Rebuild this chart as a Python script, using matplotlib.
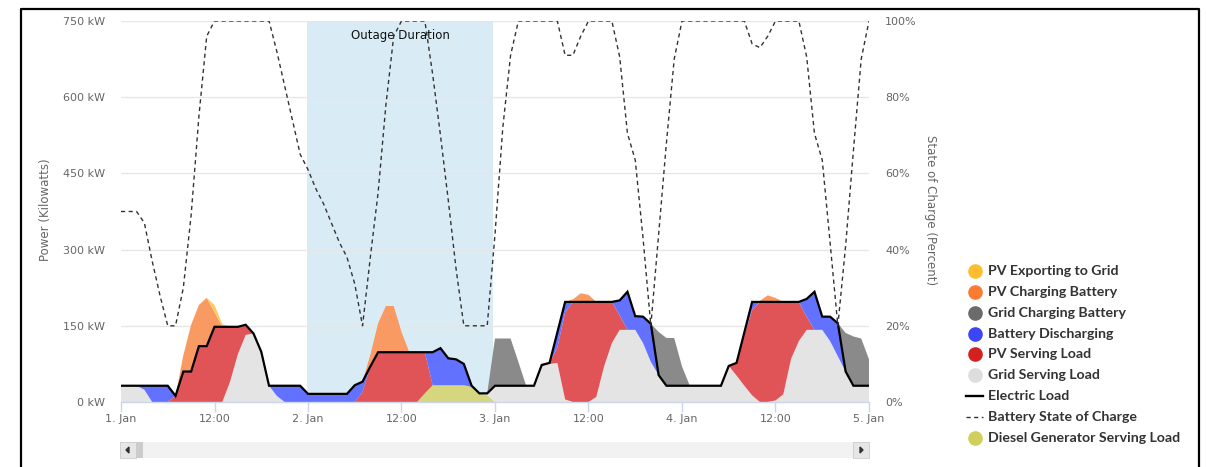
import matplotlib
matplotlib.use("Agg")
import matplotlib.pyplot as plt
from matplotlib.patches import Rectangle, Polygon
from matplotlib.lines import Line2D

# ---------------- data (hourly, 1 Jan 00:00 .. 5 Jan 00:00) ----------------
HOURS = list(range(97))

ELECTRIC_LOAD = [32, 32, 32, 32, 32, 32, 32, 12, 60, 60, 110, 110, 148, 148, 148, 148, 152, 135, 99, 32, 32, 32, 32, 32,
                 16, 16, 16, 16, 16, 16, 33, 40, 70, 98, 98, 98, 98, 98, 98, 98, 98, 106, 86, 84, 75, 32, 17, 17,
                 32, 32, 32, 32, 32, 32, 73, 77, 137, 197, 197, 197, 197, 197, 197, 197, 200, 217, 169, 168, 154, 53, 32, 32,
                 32, 32, 32, 32, 32, 32, 71, 77, 137, 197, 197, 197, 197, 197, 197, 197, 203, 217, 168, 168, 155, 60, 32, 32,
                 32]

DIESEL_SERVING = [0, 0, 0, 0, 0, 0, 0, 0, 0, 0, 0, 0, 0, 0, 0, 0, 0, 0, 0, 0, 0, 0, 0, 0,
                  0, 0, 0, 0, 0, 0, 0, 0, 0, 0, 0, 0, 0, 0, 0, 17, 33, 33, 33, 33, 33, 30, 17, 13,
                  0, 0, 0, 0, 0, 0, 0, 0, 0, 0, 0, 0, 0, 0, 0, 0, 0, 0, 0, 0, 0, 0, 0, 0,
                  0, 0, 0, 0, 0, 0, 0, 0, 0, 0, 0, 0, 0, 0, 0, 0, 0, 0, 0, 0, 0, 0, 0, 0,
                  0]

GRID_SERVING = [32, 32, 32, 24, 0, 0, 0, 0, 0, 0, 0, 0, 0, 0, 40, 94, 132, 135, 99, 32, 12, 0, 0, 0,
                0, 0, 0, 0, 0, 0, 0, 0, 0, 0, 0, 0, 0, 0, 0, 0, 0, 0, 0, 0, 0, 0, 0, 4,
                32, 32, 32, 32, 32, 32, 70, 75, 77, 5, 0, 0, 0, 10, 70, 116, 142, 142, 142, 116, 79, 53, 32, 32,
                32, 32, 32, 32, 32, 32, 71, 52, 32, 13, 0, 0, 3, 15, 85, 120, 142, 142, 142, 120, 90, 60, 32, 32,
                32]

PV_SERVING = [0, 0, 0, 0, 0, 0, 0, 12, 60, 60, 110, 110, 148, 148, 108, 54, 20, 0, 0, 0, 0, 0, 0, 0,
              0, 0, 0, 0, 0, 0, 0, 20, 70, 98, 98, 98, 98, 98, 98, 81, 0, 0, 0, 0, 0, 0, 0, 0,
              0, 0, 0, 0, 0, 0, 3, 2, 30, 172, 197, 197, 197, 187, 127, 81, 29, 0, 0, 0, 0, 0, 0, 0,
              0, 0, 0, 0, 0, 0, 0, 25, 100, 168, 197, 197, 194, 182, 112, 77, 26, 0, 0, 0, 0, 0, 0, 0,
              0]

BATTERY_DISCHARGING = [0, 0, 0, 8, 32, 32, 32, 0, 0, 0, 0, 0, 0, 0, 0, 0, 0, 0, 0, 0, 20, 32, 32, 32,
                       16, 16, 16, 16, 16, 16, 33, 20, 0, 0, 0, 0, 0, 0, 0, 0, 65, 73, 53, 51, 42, 2, 0, 0,
                       0, 0, 0, 0, 0, 0, 0, 0, 30, 20, 0, 0, 0, 0, 0, 0, 29, 75, 27, 52, 75, 0, 0, 0,
                       0, 0, 0, 0, 0, 0, 0, 0, 5, 16, 0, 0, 0, 0, 0, 0, 35, 75, 26, 48, 65, 0, 0, 0,
                       0]

GRID_CHARGING = [0, 0, 0, 0, 0, 0, 0, 0, 0, 0, 0, 0, 0, 0, 0, 0, 0, 0, 0, 0, 0, 0, 0, 0,
                 0, 0, 0, 0, 0, 0, 0, 0, 0, 0, 0, 0, 0, 0, 0, 0, 0, 0, 0, 0, 0, 0, 0, 0,
                 93, 93, 93, 47, 0, 0, 0, 0, 0, 0, 0, 0, 0, 0, 0, 0, 0, 0, 0, 0, 0, 85, 94, 94,
                 38, 0, 0, 0, 0, 0, 0, 0, 0, 0, 0, 0, 0, 0, 0, 0, 0, 0, 0, 0, 0, 76, 97, 93,
                 52]

PV_CHARGING = [0, 0, 0, 0, 0, 0, 0, 0, 32, 92, 81, 95, 29, 0, 0, 0, 0, 0, 0, 0, 0, 0, 0, 0,
               0, 0, 0, 0, 0, 0, 0, 0, 23, 57, 91, 91, 40, 0, 0, 0, 0, 0, 0, 0, 0, 0, 0, 0,
               0, 0, 0, 0, 0, 0, 0, 0, 0, 0, 5, 17, 14, 0, 0, 0, 0, 0, 0, 0, 0, 0, 0, 0,
               0, 0, 0, 0, 0, 0, 0, 0, 0, 0, 2, 13, 8, 0, 0, 0, 0, 0, 0, 0, 0, 0, 0, 0,
               0]

PV_EXPORTING = [0, 0, 0, 0, 0, 0, 0, 0, 0, 0, 0, 0, 14, 5, 0, 0, 0, 0, 0, 0, 0, 0, 0, 0,
                0, 0, 0, 0, 0, 0, 0, 0, 0, 0, 0, 0, 0, 0, 0, 0, 0, 0, 0, 0, 0, 0, 0, 0,
                0, 0, 0, 0, 0, 0, 0, 0, 0, 0, 0, 0, 0, 0, 0, 0, 0, 0, 0, 0, 0, 0, 0, 0,
                0, 0, 0, 0, 0, 0, 0, 0, 0, 0, 0, 0, 0, 0, 0, 0, 0, 0, 0, 0, 0, 0, 0, 0,
                0]

BATTERY_SOC = [50, 50, 50, 47, 37, 28, 20, 20, 30, 49, 75, 96, 100, 100, 100, 100, 100, 100, 100, 100, 92, 83, 74, 65,
               61, 56, 52, 47, 42, 38, 31, 20, 38, 55, 78, 96, 100, 100, 100, 100, 86, 70, 53, 35, 20, 20, 20, 20,
               44, 72, 91, 100, 100, 100, 100, 100, 100, 91, 91, 96, 100, 100, 100, 100, 90.6, 70.5, 63.5, 43, 20, 44, 68, 90,
               100, 100, 100, 100, 100, 100, 100, 100, 100, 94, 93, 96, 100, 100, 100, 100, 90.6, 70.5, 63.5, 42, 20, 41, 66, 90,
               100]

OUTAGE = [23.9, 47.8]
X_TICKS = [0, 12, 24, 36, 48, 60, 72, 84, 96]
X_LABELS = ["1. Jan", "12:00", "2. Jan", "12:00", "3. Jan", "12:00", "4. Jan", "12:00", "5. Jan"]
Y_TICKS = [0, 150, 300, 450, 600, 750]
Y_LABELS = ["0 kW", "150 kW", "300 kW", "450 kW", "600 kW", "750 kW"]
SOC_TICKS = [0, 20, 40, 60, 80, 100]
SOC_LABELS = ["0%", "20%", "40%", "60%", "80%", "100%"]

LEGEND_LABELS = ["PV Exporting to Grid", "PV Charging Battery", "Grid Charging Battery",
                 "Battery Discharging", "PV Serving Load", "Grid Serving Load",
                 "Electric Load", "Battery State of Charge", "Diesel Generator Serving Load"]
LEGEND_COLORS = ["#fdbd2e", "#fb7b33", "#6b6b6b", "#3d46f5", "#d42020", "#dddddd",
                 "#000000", "#333333", "#cfcf5c"]

# ---------------- figure ----------------
W, H = 1207, 467
fig = plt.figure(figsize=(W / 100, H / 100), dpi=100)
fig.patch.set_facecolor("white")

def fx(px):
    return px / W

def fy(py):
    return 1 - py / H

L, R, T, B = 121, 869, 21, 402
ax = fig.add_axes([fx(L), fy(B), (R - L) / W, (B - T) / H])
ax.set_xlim(0, 96)
ax.set_ylim(0, 750)

ax.axvspan(OUTAGE[0], OUTAGE[1], color="#d9ecf6", zorder=0.2, lw=0)
ax.text((OUTAGE[0] + OUTAGE[1]) / 2, 0.963, "Outage Duration", transform=ax.get_xaxis_transform(),
        ha="center", va="center", fontsize=8.5, color="#111111", zorder=5)

for v in Y_TICKS[1:]:
    ax.axhline(v, color="#e6e6e6", lw=1, zorder=0.5)

stack_colors = ["#d5d67e", "#e4e4e4", "#e05457", "#6272ff", "#8a8a8a", "#f99a62", "#fec95f"]
polys = ax.stackplot(HOURS, DIESEL_SERVING, GRID_SERVING, PV_SERVING, BATTERY_DISCHARGING,
                     GRID_CHARGING, PV_CHARGING, PV_EXPORTING, colors=stack_colors, zorder=2)
for p in polys:
    p.set_linewidth(0)

ax.plot(HOURS, ELECTRIC_LOAD, color="black", lw=1.6, zorder=4, solid_joinstyle="miter")

ax.set_yticks(Y_TICKS)
ax.set_yticklabels(Y_LABELS)
ax.set_xticks(X_TICKS)
ax.set_xticklabels(X_LABELS)
ax.tick_params(axis="y", length=0, pad=11.5, labelsize=8, labelcolor="#666666")
ax.tick_params(axis="x", length=7, width=1, color="#ccd6eb", pad=2, labelsize=8, labelcolor="#666666")
for s in ["left", "right", "top"]:
    ax.spines[s].set_visible(False)
ax.spines["bottom"].set_color("#ccd6eb")
ax.spines["bottom"].set_linewidth(1)
ax.set_facecolor("none")

ax2 = ax.twinx()
ax2.set_ylim(0, 100)
ax2.plot(HOURS, BATTERY_SOC, color="#333333", lw=1.0, dashes=(3, 2.5), zorder=5)
ax2.set_yticks(SOC_TICKS)
ax2.set_yticklabels(SOC_LABELS)
ax2.tick_params(axis="y", length=0, pad=11.5, labelsize=8, labelcolor="#666666")
for s in ["left", "right", "top", "bottom"]:
    ax2.spines[s].set_visible(False)

fig.text(fx(45), fy(210), "Power (Kilowatts)", rotation=90, ha="center", va="center",
         fontsize=8.5, color="#666666")
fig.text(fx(930), fy(210), "State of Charge (Percent)", rotation=270, ha="center", va="center",
         fontsize=8.5, color="#666666")

# ---------------- legend ----------------
for i, (lab, col) in enumerate(zip(LEGEND_LABELS, LEGEND_COLORS)):
    yy = fy(271 + i * 20.85)
    if lab == "Electric Load":
        fig.add_artist(Line2D([fx(966), fx(983)], [yy, yy], color=col, lw=1.7))
    elif lab == "Battery State of Charge":
        fig.add_artist(Line2D([fx(966), fx(983)], [yy, yy], color=col, lw=1.0, dashes=(3, 2.5)))
    else:
        fig.add_artist(Line2D([fx(975)], [yy], marker="o", markersize=9.5, color=col, lw=0))
    fig.text(fx(988), yy, lab, ha="left", va="center", fontsize=10.2, fontweight="bold",
             color="#333333", family=["Lato", "DejaVu Sans"])

# ---------------- scrollbar ----------------
def rect(x0, y0, x1, y1, fc, ec="none"):
    fig.add_artist(Rectangle((fx(x0), fy(y1)), fx(x1) - fx(x0), fy(y0) - fy(y1),
                             transform=fig.transFigure, facecolor=fc, edgecolor=ec, lw=0.6))

rect(120, 442, 869, 458, "#f2f2f2")
rect(120, 442, 136, 458, "#e6e6e6", "#cccccc")
rect(136, 442, 143, 458, "#cccccc")
rect(853, 442, 869, 458, "#e6e6e6", "#cccccc")
fig.add_artist(Polygon([(fx(126), fy(450)), (fx(129), fy(447)), (fx(129), fy(453))],
                       closed=True, transform=fig.transFigure, color="#333333"))
fig.add_artist(Polygon([(fx(863), fy(450)), (fx(860), fy(447)), (fx(860), fy(453))],
                       closed=True, transform=fig.transFigure, color="#333333"))

# ---------------- outer frame ----------------
fig.add_artist(Line2D([fx(21), fx(21), fx(1199), fx(1199)], [fy(470), fy(9), fy(9), fy(470)],
                      color="black", lw=1.6, transform=fig.transFigure))

fig.savefig("out.png", dpi=100)
